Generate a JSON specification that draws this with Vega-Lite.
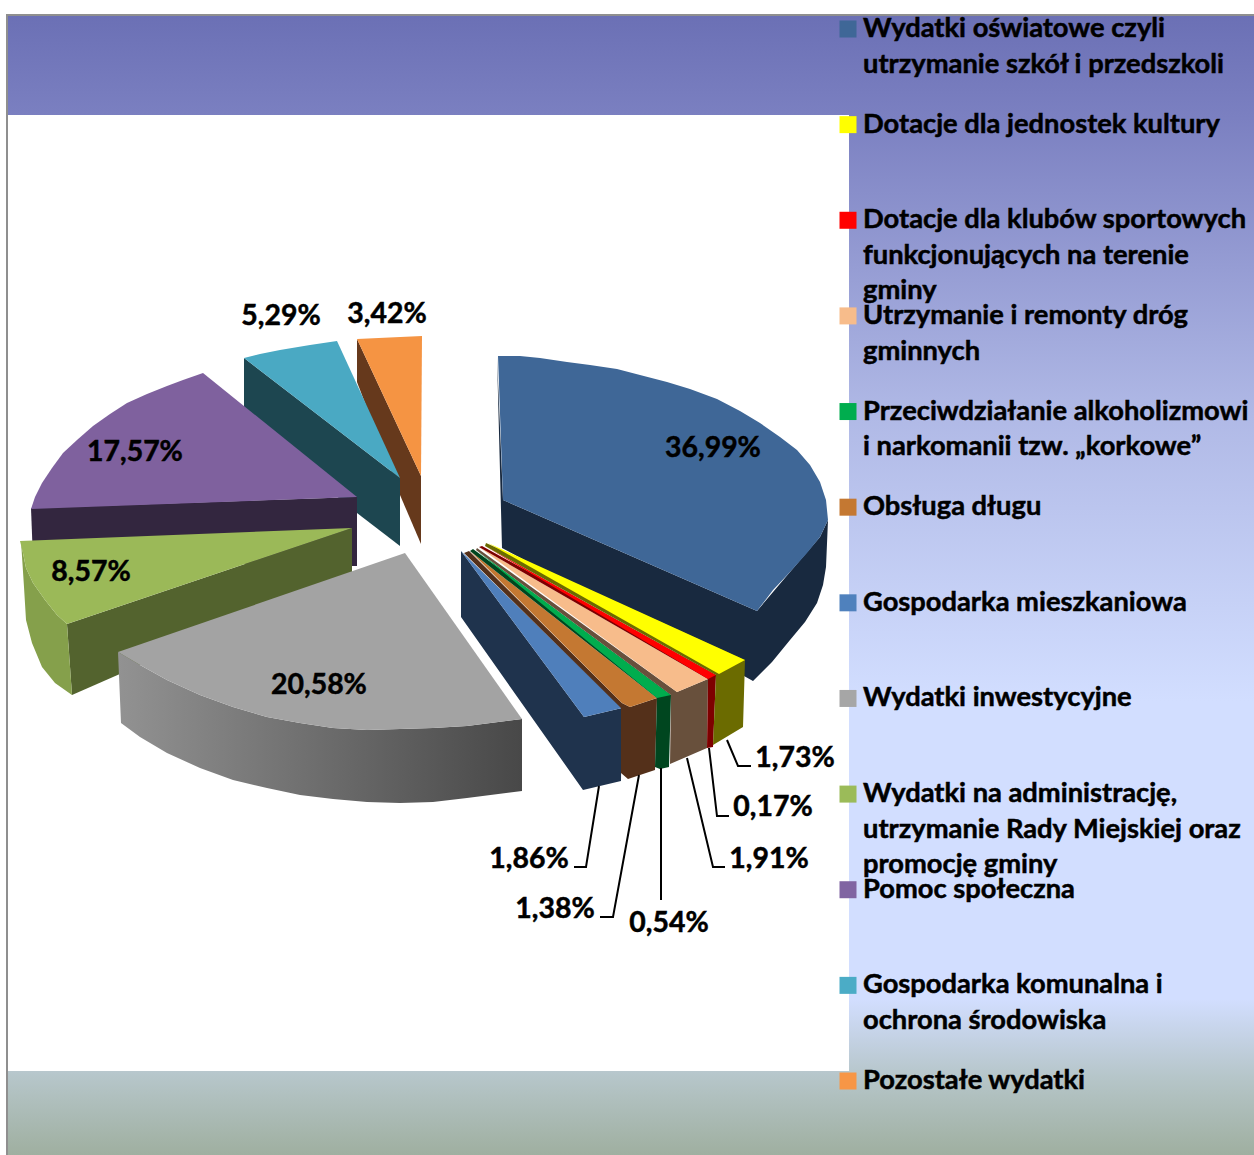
{"$schema":"https://vega.github.io/schema/vega-lite/v6.json","width":1254,"height":1155,"padding":0,"autosize":{"type":"none"},"background":"white","config":{"view":{"stroke":null},"font":"Lato"},
"datasets":{
"frame":[{"area":"chart","x0":7,"x1":1258,"y0":15,"y1":1159}],
"plot":[{"area":"plot","x0":8,"x1":849,"y0":115,"y1":1071}],
"slices":[
{"name":"Wydatki oświatowe czyli\nutrzymanie szkół i przedszkoli","label":"36,99%","labelX":713,"labelY":446},
{"name":"Dotacje dla jednostek kultury","label":"1,73%","labelX":795,"labelY":756},
{"name":"Dotacje dla klubów sportowych\nfunkcjonujących na terenie\ngminy","label":"0,17%","labelX":773,"labelY":805},
{"name":"Utrzymanie i remonty dróg\ngminnych","label":"1,91%","labelX":769,"labelY":857},
{"name":"Przeciwdziałanie alkoholizmowi\ni narkomanii tzw. „korkowe”","label":"0,54%","labelX":669,"labelY":921},
{"name":"Obsługa długu","label":"1,38%","labelX":555,"labelY":907},
{"name":"Gospodarka mieszkaniowa","label":"1,86%","labelX":529,"labelY":857},
{"name":"Wydatki inwestycyjne","label":"20,58%","labelX":319,"labelY":683},
{"name":"Wydatki na administrację,\nutrzymanie Rady Miejskiej oraz\npromocję gminy","label":"8,57%","labelX":91,"labelY":570},
{"name":"Pomoc społeczna","label":"17,57%","labelX":135,"labelY":450},
{"name":"Gospodarka komunalna i\nochrona środowiska","label":"5,29%","labelX":281,"labelY":314},
{"name":"Pozostałe wydatki","label":"3,42%","labelX":387,"labelY":312}],
"leaders":[
{"slice":"1,73%","i":1,"x":727,"y":740},{"slice":"1,73%","i":2,"x":738,"y":766},{"slice":"1,73%","i":3,"x":751,"y":766},
{"slice":"0,17%","i":1,"x":709,"y":748},{"slice":"0,17%","i":2,"x":717,"y":816},{"slice":"0,17%","i":3,"x":729,"y":816},
{"slice":"1,91%","i":1,"x":687,"y":758},{"slice":"1,91%","i":2,"x":713,"y":867},{"slice":"1,91%","i":3,"x":725,"y":867},
{"slice":"0,54%","i":1,"x":661,"y":768},{"slice":"0,54%","i":2,"x":661,"y":900},
{"slice":"1,38%","i":1,"x":639,"y":775},{"slice":"1,38%","i":2,"x":613,"y":917},{"slice":"1,38%","i":3,"x":600,"y":917},
{"slice":"1,86%","i":1,"x":599,"y":786},{"slice":"1,86%","i":2,"x":586,"y":867},{"slice":"1,86%","i":3,"x":574,"y":867}],
"grayWall":[
{"i":1,"x":118,"y":652},{"i":2,"x":140,"y":665},{"i":3,"x":167,"y":680},{"i":4,"x":200,"y":695},{"i":5,"x":233,"y":707},{"i":6,"x":267,"y":717},{"i":7,"x":300,"y":723},{"i":8,"x":333,"y":728},{"i":9,"x":367,"y":730},{"i":10,"x":400,"y":729},{"i":11,"x":433,"y":728},{"i":12,"x":467,"y":726},{"i":13,"x":522,"y":719},{"i":14,"x":522,"y":791},{"i":15,"x":467,"y":798},{"i":16,"x":433,"y":802},{"i":17,"x":400,"y":803},{"i":18,"x":367,"y":802},{"i":19,"x":333,"y":799},{"i":20,"x":300,"y":795},{"i":21,"x":267,"y":788},{"i":22,"x":233,"y":780},{"i":23,"x":200,"y":768},{"i":24,"x":167,"y":753},{"i":25,"x":140,"y":737},{"i":26,"x":121,"y":723}],
"back":[
{"part":"orangeSide","i":1,"x":357,"y":339},{"part":"orangeSide","i":2,"x":421,"y":476},{"part":"orangeSide","i":3,"x":421,"y":544},{"part":"orangeSide","i":4,"x":400,"y":495},{"part":"orangeSide","i":5,"x":357,"y":382},
{"part":"orangeTop","i":1,"x":357,"y":339},{"part":"orangeTop","i":2,"x":422,"y":336},{"part":"orangeTop","i":3,"x":421,"y":476},
{"part":"tealSide","i":1,"x":244,"y":358},{"part":"tealSide","i":2,"x":400,"y":478},{"part":"tealSide","i":3,"x":400,"y":546},{"part":"tealSide","i":4,"x":357,"y":513},{"part":"tealSide","i":5,"x":244,"y":420},
{"part":"tealTop","i":1,"x":244,"y":358},{"part":"tealTop","i":2,"x":260,"y":354},{"part":"tealTop","i":3,"x":280,"y":350},{"part":"tealTop","i":4,"x":310,"y":345},{"part":"tealTop","i":5,"x":337,"y":341},{"part":"tealTop","i":6,"x":400,"y":478},
{"part":"purpleSide","i":1,"x":31,"y":508},{"part":"purpleSide","i":2,"x":357,"y":497},{"part":"purpleSide","i":3,"x":357,"y":566},{"part":"purpleSide","i":4,"x":352,"y":566},{"part":"purpleSide","i":5,"x":33,"y":560},
{"part":"purpleTop","i":1,"x":203,"y":373},{"part":"purpleTop","i":2,"x":183,"y":380},{"part":"purpleTop","i":3,"x":167,"y":386},{"part":"purpleTop","i":4,"x":147,"y":394},{"part":"purpleTop","i":5,"x":127,"y":403},{"part":"purpleTop","i":6,"x":110,"y":414},{"part":"purpleTop","i":7,"x":93,"y":426},{"part":"purpleTop","i":8,"x":77,"y":440},{"part":"purpleTop","i":9,"x":63,"y":453},{"part":"purpleTop","i":10,"x":52,"y":468},{"part":"purpleTop","i":11,"x":42,"y":483},{"part":"purpleTop","i":12,"x":35,"y":497},{"part":"purpleTop","i":13,"x":31,"y":509},{"part":"purpleTop","i":14,"x":357,"y":497},
{"part":"limeInner","i":1,"x":67,"y":624},{"part":"limeInner","i":2,"x":352,"y":528},{"part":"limeInner","i":3,"x":352,"y":572},{"part":"limeInner","i":4,"x":72,"y":695},
{"part":"limeWall","i":1,"x":21,"y":541},{"part":"limeWall","i":2,"x":23,"y":553},{"part":"limeWall","i":3,"x":26,"y":568},{"part":"limeWall","i":4,"x":33,"y":583},{"part":"limeWall","i":5,"x":45,"y":600},{"part":"limeWall","i":6,"x":57,"y":615},{"part":"limeWall","i":7,"x":67,"y":624},{"part":"limeWall","i":8,"x":72,"y":695},{"part":"limeWall","i":9,"x":55,"y":683},{"part":"limeWall","i":10,"x":42,"y":667},{"part":"limeWall","i":11,"x":32,"y":643},{"part":"limeWall","i":12,"x":26,"y":620},{"part":"limeWall","i":13,"x":24,"y":587},
{"part":"limeTop","i":1,"x":20,"y":541},{"part":"limeTop","i":2,"x":352,"y":528},{"part":"limeTop","i":3,"x":67,"y":624},{"part":"limeTop","i":4,"x":57,"y":615},{"part":"limeTop","i":5,"x":45,"y":600},{"part":"limeTop","i":6,"x":33,"y":583},{"part":"limeTop","i":7,"x":26,"y":568},{"part":"limeTop","i":8,"x":23,"y":553}],
"front":[
{"part":"grayTop","i":1,"x":405,"y":553},{"part":"grayTop","i":2,"x":118,"y":652},{"part":"grayTop","i":3,"x":140,"y":665},{"part":"grayTop","i":4,"x":167,"y":680},{"part":"grayTop","i":5,"x":200,"y":695},{"part":"grayTop","i":6,"x":233,"y":707},{"part":"grayTop","i":7,"x":267,"y":717},{"part":"grayTop","i":8,"x":300,"y":723},{"part":"grayTop","i":9,"x":333,"y":728},{"part":"grayTop","i":10,"x":367,"y":730},{"part":"grayTop","i":11,"x":400,"y":729},{"part":"grayTop","i":12,"x":433,"y":728},{"part":"grayTop","i":13,"x":467,"y":726},{"part":"grayTop","i":14,"x":522,"y":719},
{"part":"bigWall","i":1,"x":497,"y":356},{"part":"bigWall","i":2,"x":503,"y":500},{"part":"bigWall","i":3,"x":757,"y":611},{"part":"bigWall","i":4,"x":790,"y":572},{"part":"bigWall","i":5,"x":820,"y":537},{"part":"bigWall","i":6,"x":828,"y":520},{"part":"bigWall","i":7,"x":826,"y":567},{"part":"bigWall","i":8,"x":823,"y":585},{"part":"bigWall","i":9,"x":817,"y":603},{"part":"bigWall","i":10,"x":805,"y":622},{"part":"bigWall","i":11,"x":790,"y":640},{"part":"bigWall","i":12,"x":772,"y":662},{"part":"bigWall","i":13,"x":753,"y":681},{"part":"bigWall","i":14,"x":744,"y":676},{"part":"bigWall","i":15,"x":502,"y":548},
{"part":"bigTop","i":1,"x":498,"y":356},{"part":"bigTop","i":2,"x":520,"y":356},{"part":"bigTop","i":3,"x":540,"y":358},{"part":"bigTop","i":4,"x":567,"y":362},{"part":"bigTop","i":5,"x":590,"y":365},{"part":"bigTop","i":6,"x":617,"y":369},{"part":"bigTop","i":7,"x":640,"y":375},{"part":"bigTop","i":8,"x":667,"y":382},{"part":"bigTop","i":9,"x":690,"y":389},{"part":"bigTop","i":10,"x":717,"y":399},{"part":"bigTop","i":11,"x":740,"y":411},{"part":"bigTop","i":12,"x":760,"y":423},{"part":"bigTop","i":13,"x":780,"y":437},{"part":"bigTop","i":14,"x":797,"y":450},{"part":"bigTop","i":15,"x":810,"y":465},{"part":"bigTop","i":16,"x":820,"y":482},{"part":"bigTop","i":17,"x":826,"y":500},{"part":"bigTop","i":18,"x":828,"y":520},{"part":"bigTop","i":19,"x":820,"y":537},{"part":"bigTop","i":20,"x":807,"y":553},{"part":"bigTop","i":21,"x":790,"y":572},{"part":"bigTop","i":22,"x":773,"y":590},{"part":"bigTop","i":23,"x":757,"y":611},{"part":"bigTop","i":24,"x":503,"y":500},
{"part":"navyWall","i":1,"x":461,"y":551},{"part":"navyWall","i":2,"x":584,"y":717},{"part":"navyWall","i":3,"x":622,"y":708},{"part":"navyWall","i":4,"x":621,"y":781},{"part":"navyWall","i":5,"x":583,"y":790},{"part":"navyWall","i":6,"x":461,"y":617},
{"part":"blueTop","i":1,"x":461,"y":551},{"part":"blueTop","i":2,"x":622,"y":708},{"part":"blueTop","i":3,"x":584,"y":717},
{"part":"copperWall","i":1,"x":464,"y":553},{"part":"copperWall","i":2,"x":469,"y":551},{"part":"copperWall","i":3,"x":622,"y":703},{"part":"copperWall","i":4,"x":630,"y":707},{"part":"copperWall","i":5,"x":657,"y":698},{"part":"copperWall","i":6,"x":655,"y":770},{"part":"copperWall","i":7,"x":628,"y":779},{"part":"copperWall","i":8,"x":621,"y":773},{"part":"copperWall","i":9,"x":621,"y":708},
{"part":"copperTop","i":1,"x":470,"y":551},{"part":"copperTop","i":2,"x":657,"y":698},{"part":"copperTop","i":3,"x":630,"y":707},{"part":"copperTop","i":4,"x":622,"y":703},
{"part":"greenWall","i":1,"x":470,"y":551},{"part":"greenWall","i":2,"x":473,"y":549},{"part":"greenWall","i":3,"x":671,"y":695},{"part":"greenWall","i":4,"x":669,"y":767},{"part":"greenWall","i":5,"x":660,"y":769},{"part":"greenWall","i":6,"x":655,"y":767},{"part":"greenWall","i":7,"x":657,"y":698},
{"part":"greenTop","i":1,"x":476,"y":550},{"part":"greenTop","i":2,"x":671,"y":695},{"part":"greenTop","i":3,"x":657,"y":698},
{"part":"peachWall","i":1,"x":476,"y":550},{"part":"peachWall","i":2,"x":477,"y":548},{"part":"peachWall","i":3,"x":677,"y":692},{"part":"peachWall","i":4,"x":708,"y":679},{"part":"peachWall","i":5,"x":707,"y":748},{"part":"peachWall","i":6,"x":670,"y":764},{"part":"peachWall","i":7,"x":671,"y":695},
{"part":"peachTop","i":1,"x":479,"y":547},{"part":"peachTop","i":2,"x":708,"y":679},{"part":"peachTop","i":3,"x":677,"y":692},
{"part":"redWall","i":1,"x":479,"y":547},{"part":"redWall","i":2,"x":482,"y":546},{"part":"redWall","i":3,"x":716,"y":675},{"part":"redWall","i":4,"x":713,"y":747},{"part":"redWall","i":5,"x":707,"y":748},{"part":"redWall","i":6,"x":708,"y":679},
{"part":"redTop","i":1,"x":485,"y":546},{"part":"redTop","i":2,"x":716,"y":675},{"part":"redTop","i":3,"x":708,"y":679},
{"part":"yellowWall","i":1,"x":485,"y":546},{"part":"yellowWall","i":2,"x":486,"y":543},{"part":"yellowWall","i":3,"x":745,"y":660},{"part":"yellowWall","i":4,"x":743,"y":727},{"part":"yellowWall","i":5,"x":713,"y":745},{"part":"yellowWall","i":6,"x":716,"y":675},
{"part":"yellowTop","i":1,"x":488,"y":543},{"part":"yellowTop","i":2,"x":745,"y":660},{"part":"yellowTop","i":3,"x":719,"y":674}]
},
"resolve":{"scale":{"color":"independent","y":"independent"}},
"layer":[
{"data":{"name":"frame"},"mark":{"type":"rect","stroke":"#8f8f8f","strokeWidth":2,"clip":false,"fill":{"gradient":"linear","x1":0,"y1":0,"x2":0,"y2":1,"stops":[{"offset":0,"color":"#6b70b5"},{"offset":0.09,"color":"#7b80c1"},{"offset":0.35,"color":"#b0b9e6"},{"offset":0.6,"color":"#d2deff"},{"offset":0.86,"color":"#d2deff"},{"offset":0.93,"color":"#b5c5c8"},{"offset":1,"color":"#9eae9e"}]}},
"encoding":{"x":{"field":"x0","type":"quantitative","scale":{"domain":[0,1254]},"axis":null},"x2":{"field":"x1"},"y":{"field":"y0","type":"quantitative","scale":{"domain":[0,1155],"reverse":true},"axis":null},"y2":{"field":"y1"}}},
{"data":{"name":"plot"},"mark":{"type":"rect","fill":"white"},
"encoding":{"x":{"field":"x0","type":"quantitative","scale":{"domain":[0,1254]},"axis":null},"x2":{"field":"x1"},"y":{"field":"y0","type":"quantitative","scale":{"domain":[0,1155],"reverse":true},"axis":null},"y2":{"field":"y1"}}},
{"data":{"name":"back"},"mark":{"type":"line","filled":true,"interpolate":"linear"},
"encoding":{"x":{"field":"x","type":"quantitative","scale":{"domain":[0,1254]},"axis":null},"y":{"field":"y","type":"quantitative","scale":{"domain":[0,1155],"reverse":true},"axis":null},"order":{"field":"i","type":"quantitative"},
"color":{"field":"part","type":"nominal","legend":null,"scale":{"domain":["orangeSide","orangeTop","tealSide","tealTop","purpleSide","purpleTop","limeInner","limeWall","limeTop"],"range":["#66391c","#f59443","#1d4650","#4aa9c3","#33263f","#7f619e","#53632e","#85a04b","#9bb958"]}}}},
{"data":{"name":"grayWall"},"mark":{"type":"line","filled":true,"fill":{"gradient":"linear","x1":0,"y1":0,"x2":1,"y2":0,"stops":[{"offset":0,"color":"#929292"},{"offset":1,"color":"#484848"}]}},
"encoding":{"x":{"field":"x","type":"quantitative","scale":{"domain":[0,1254]},"axis":null},"y":{"field":"y","type":"quantitative","scale":{"domain":[0,1155],"reverse":true},"axis":null},"order":{"field":"i","type":"quantitative"}}},
{"data":{"name":"front"},"mark":{"type":"line","filled":true,"interpolate":"linear"},
"encoding":{"x":{"field":"x","type":"quantitative","scale":{"domain":[0,1254]},"axis":null},"y":{"field":"y","type":"quantitative","scale":{"domain":[0,1155],"reverse":true},"axis":null},"order":{"field":"i","type":"quantitative"},
"color":{"field":"part","type":"nominal","legend":null,"scale":{"domain":["grayTop","bigWall","bigTop","navyWall","blueTop","copperWall","copperTop","greenWall","greenTop","peachWall","peachTop","redWall","redTop","yellowWall","yellowTop"],"range":["#a3a3a3","#18293f","#3f6797","#1f334d","#4f7fbb","#54301a","#c47832","#00461f","#00ad4e","#68503c","#f7bc8b","#7e0000","#ff0000","#6b6b00","#ffff00"]}}}},
{"data":{"name":"leaders"},"mark":{"type":"line","color":"black","strokeWidth":2},
"encoding":{"x":{"field":"x","type":"quantitative","scale":{"domain":[0,1254]},"axis":null},"y":{"field":"y","type":"quantitative","scale":{"domain":[0,1155],"reverse":true},"axis":null},"order":{"field":"i","type":"quantitative"},"detail":{"field":"slice","type":"nominal"}}},
{"data":{"name":"slices"},"mark":{"type":"text","font":"Lato","fontWeight":"bold","fontSize":28.4,"align":"center","baseline":"middle","dy":1.5,"color":"black","stroke":"black","strokeWidth":0.5},
"encoding":{"x":{"field":"labelX","type":"quantitative","scale":{"domain":[0,1254]},"axis":null},"y":{"field":"labelY","type":"quantitative","scale":{"domain":[0,1155],"reverse":true},"axis":null},"text":{"field":"label","type":"nominal"}}},
{"data":{"name":"slices"},"mark":{"type":"point","shape":"square","filled":true,"size":289,"opacity":1},
"encoding":{"x":{"datum":848,"type":"quantitative","scale":{"domain":[0,1254]},"axis":null},"y":{"field":"name","type":"nominal","scale":{"type":"point","padding":0,"range":[29,1081]},"sort":null,"axis":null},
"color":{"field":"name","type":"nominal","sort":null,"legend":null,"scale":{"range":["#3f6797","#ffff00","#ff0000","#f7bc8b","#00ad4e","#c47832","#4f81bd","#a6a6a6","#9bbb59","#8064a2","#4bacc6","#f79646"]}}}},
{"data":{"name":"slices"},"mark":{"type":"text","font":"Lato","fontWeight":"bold","fontSize":27.3,"align":"left","baseline":"top","dy":-14,"lineBreak":"\n","lineHeight":35.6,"color":"black","stroke":"black","strokeWidth":0.5},
"encoding":{"x":{"datum":863,"type":"quantitative","scale":{"domain":[0,1254]},"axis":null},"y":{"field":"name","type":"nominal","scale":{"type":"point","padding":0,"range":[29,1081]},"sort":null,"axis":null},"text":{"field":"name","type":"nominal"}}}
]}
